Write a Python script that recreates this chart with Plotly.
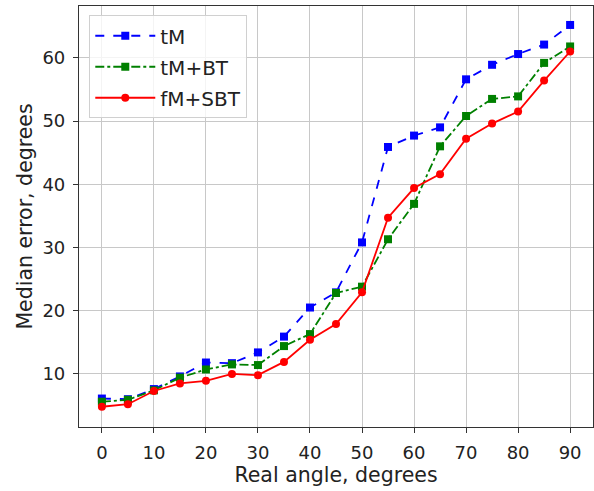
import plotly.graph_objects as go

angles = [0, 5, 10, 15, 20, 25, 30, 35, 40, 45, 50, 55, 60, 65, 70, 75, 80, 85, 90]
tM = [6.1, 6.0, 7.6, 9.6, 11.8, 11.7, 13.4, 15.9, 20.5, 22.9, 30.8, 45.9, 47.7, 49.0, 56.6, 58.9, 60.6, 62.1, 65.2]
tM_BT = [5.6, 5.9, 7.4, 9.4, 10.7, 11.5, 11.4, 14.4, 16.3, 22.8, 23.8, 31.3, 36.9, 46.0, 50.8, 53.5, 53.9, 59.2, 61.8]
fM_SBT = [4.8, 5.2, 7.3, 8.5, 8.9, 10.0, 9.8, 11.9, 15.4, 17.9, 22.9, 34.7, 39.4, 41.6, 47.2, 49.6, 51.5, 56.4, 61.0]
names = ["tM", "tM+BT", "fM+SBT"]
xticks = [0, 10, 20, 30, 40, 50, 60, 70, 80, 90]
yticks = [10, 20, 30, 40, 50, 60]

fig = go.Figure()
fig.add_trace(go.Scatter(x=angles, y=tM, name=names[0], mode="lines+markers", legendgroup="a",
                         line=dict(color="blue", dash="dash", width=1.8),
                         marker=dict(symbol="square", size=8, color="blue")))
fig.add_trace(go.Scatter(x=angles, y=tM_BT, name=names[1], mode="lines+markers", legendgroup="b",
                         line=dict(color="green", dash="dashdot", width=1.8),
                         marker=dict(symbol="square", size=8, color="green")))
fig.add_trace(go.Scatter(x=angles, y=fM_SBT, name=names[2], mode="lines+markers", legendgroup="c",
                         line=dict(color="red", dash="solid", width=1.8),
                         marker=dict(symbol="circle", size=8, color="red")))

axis_common = dict(showline=True, linecolor="#333", linewidth=1.2, mirror=True,
                   ticks="outside", ticklen=5, tickcolor="#333", ticklabelstandoff=4,
                   showgrid=True, gridcolor="#c8c8c8", gridwidth=1,
                   zeroline=False, tickfont=dict(size=18, color="#222"))

fig.update_layout(
    width=594, height=491,
    margin=dict(l=79, r=1, t=6, b=64),
    paper_bgcolor="white", plot_bgcolor="white",
    font=dict(family="DejaVu Sans", color="#222"),
    xaxis=dict(range=[-4.4, 94.4], tickvals=xticks,
               title=dict(text="Real angle, degrees", font=dict(size=20.5), standoff=2),
               **axis_common),
    yaxis=dict(range=[1.6, 68.2], tickvals=yticks,
               title=dict(text="Median error, degrees", font=dict(size=20.5), standoff=4),
               **axis_common),
    legend=dict(x=0.02, y=0.978, xanchor="left", yanchor="top",
                bgcolor="rgba(255,255,255,0.8)", bordercolor="#d0d0d0", borderwidth=1,
                font=dict(size=20, color="#222"), itemwidth=60, tracegroupgap=2),
    showlegend=True,
)

fig.write_html("out.html")
